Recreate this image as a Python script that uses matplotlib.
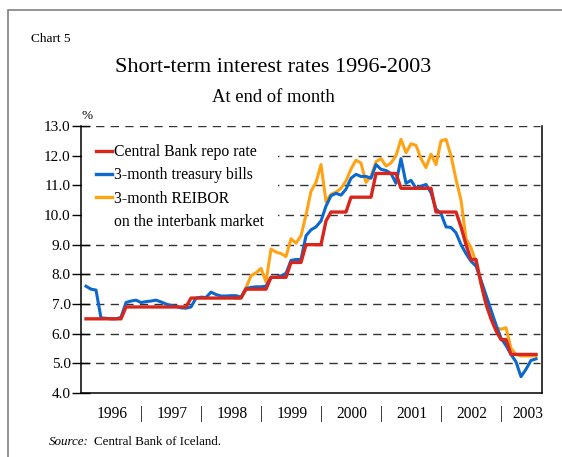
import numpy as np
import matplotlib
matplotlib.use("Agg")
from matplotlib import pyplot as plt
from matplotlib.lines import Line2D
from matplotlib.patches import Rectangle

plt.rcParams['font.family'] = ['Liberation Serif', 'DejaVu Serif']

# month index 1 = end of Jan 1996
months = np.arange(1, 92)

repo = ([6.5] * 8 + [6.9] * 13 + [7.2] * 11 + [7.5] * 5 + [7.9] * 4 + [8.4] * 3 +
        [9.0] * 4 + [9.8] + [10.1] * 4 + [10.6] * 5 + [11.4] * 5 + [10.9] * 7 +
        [10.1] * 5 + [9.6, 9.0, 8.5, 8.5, 7.7, 7.0, 6.5, 6.1, 5.8, 5.8] + [5.3] * 6)

tbills = [7.6, 7.5, 7.47, 6.53, 6.52, 6.5, 6.5, 6.55, 7.05, 7.1, 7.13, 7.05,
          7.08, 7.1, 7.13, 7.07, 7.0, 6.95, 6.92, 6.87, 6.86, 6.9, 7.2, 7.23,
          7.22, 7.4, 7.32, 7.27, 7.27, 7.28, 7.28, 7.23, 7.52, 7.56, 7.58, 7.58,
          7.6, 7.9, 7.9, 7.95, 8.03, 8.47, 8.5, 8.5, 9.3, 9.5, 9.6, 9.8,
          10.3, 10.65, 10.73, 10.67, 10.87, 11.24, 11.37, 11.3, 11.3, 11.24, 11.7, 11.54,
          11.5, 11.4, 11.07, 11.9, 11.07, 11.17, 10.9, 10.97, 11.03, 10.75, 10.2, 10.05,
          9.6, 9.58, 9.4, 9.0, 8.7, 8.44, 8.28, 7.8, 7.3, 6.8, 6.3, 5.85,
          5.6, 5.3, 5.05, 4.55, 4.8, 5.1, 5.15]

# REIBOR series begins in June 1998 (month 30)
reibor_start = 30
reibor = [7.25, 7.2, 7.22, 7.55, 7.95, 8.05, 8.2, 7.75, 8.85, 8.75, 8.7, 8.6,
          9.2, 9.05, 9.3, 10.0, 10.8, 11.1, 11.7, 10.45, 10.7, 10.77, 10.9, 11.15,
          11.55, 11.85, 11.75, 11.1, 11.3, 11.8, 11.9, 11.65, 11.75, 12.0, 12.55, 12.1,
          12.4, 12.35, 11.9, 11.6, 12.05, 11.7, 12.5, 12.55, 12.0, 11.2, 10.5, 9.2,
          8.9, 8.4, 7.7, 7.0, 6.55, 6.2, 6.15, 6.2, 5.5, 5.3, 5.25, 5.25,
          5.25, 5.25]

years = ['1996', '1997', '1998', '1999', '2000', '2001', '2002', '2003']
year_pos = [6.2, 18.2, 30.2, 42.2, 54.2, 66.2, 78.2, 89.3]
sep_pos = [12, 24, 36, 48, 60, 72, 84]

c_red = '#d9261c'
c_blue = '#0c68cc'
c_orange = '#ffa214'

fig = plt.figure(figsize=(5.62, 4.57), dpi=100)
ax = fig.add_axes([81 / 562, (457 - 393) / 457, (542 - 81) / 562, (393 - 126) / 457])

reibor_x = np.arange(reibor_start, reibor_start + len(reibor))
ax.plot(reibor_x, reibor, color=c_orange, lw=2.2, zorder=3)
ax.plot(months, tbills, color=c_blue, lw=2.2, zorder=4)
ax.plot(months, repo, color=c_red, lw=2.4, zorder=5)

ax.set_xlim(0, 92.2)
ax.set_ylim(4, 13)
ax.set_yticks(np.arange(4, 14))
ax.set_yticklabels(['%.1f' % v for v in np.arange(4, 14)])
ax.tick_params(axis='y', direction='inout', length=13, width=1, labelsize=11, pad=1,
               left=True, right=False)

ax.set_xticks(year_pos, labels=years)
ax.set_xticks(sep_pos, labels=['|'] * len(sep_pos), minor=True)
ax.tick_params(axis='x', which='both', length=0, labelsize=11.2, pad=9,
               top=False, bottom=True)

for v in range(5, 14):
    ax.axhline(v, xmax=0.995, color='#333333', lw=1.0, linestyle=(0, (6, 4.5)),
               zorder=1)

ax.spines['top'].set_visible(False)
for s in ['left', 'right', 'bottom']:
    ax.spines[s].set_linewidth(1.1)

handles = [Line2D([], [], color=c_red, lw=2.4),
           Line2D([], [], color=c_blue, lw=2.4),
           Line2D([], [], color=c_orange, lw=2.4),
           Line2D([], [], color='none')]
labels = ['Central Bank repo rate', '3-month treasury bills',
          '3-month REIBOR', 'on the interbank market']
leg = ax.legend(handles, labels, loc='upper left', bbox_to_anchor=(0.002, 0.985),
                fontsize=11.3, handlelength=1.0, handletextpad=0.15,
                labelspacing=0.46, borderpad=0.9, borderaxespad=0.0,
                frameon=True, fancybox=False, framealpha=1)
leg.get_frame().set_facecolor('white')
leg.get_frame().set_edgecolor('none')
leg.set_zorder(6)

fig.text(31 / 562, 1 - 42 / 457, 'Chart 5', fontsize=9.6, ha='left', va='baseline')
fig.text(273 / 562, 1 - 72 / 457, 'Short-term interest rates 1996-2003',
         fontsize=16, ha='center', va='baseline')
fig.text(273 / 562, 1 - 102 / 457, 'At end of month', fontsize=13.4,
         ha='center', va='baseline')
fig.text(81 / 562, 1 - 119 / 457, '%', fontsize=9.5, ha='left', va='baseline')
fig.text(49 / 562, 1 - 445 / 457, 'Source:', fontsize=9.4, style='italic',
         ha='left', va='baseline')
fig.text(94 / 562, 1 - 445 / 457, 'Central Bank of Iceland.', fontsize=9.4,
         ha='left', va='baseline')

fig.patches.append(Rectangle((8 / 562, -0.1), 1.2, 1.1 - 10 / 457,
                             transform=fig.transFigure, fill=False,
                             edgecolor='#808080', lw=1.2))

fig.savefig('out.png', dpi=100)
